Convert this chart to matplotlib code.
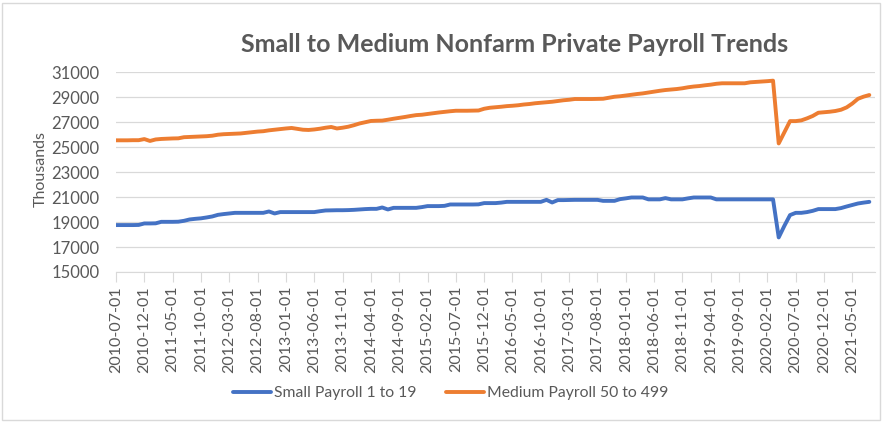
import matplotlib
matplotlib.use("Agg")
import matplotlib.pyplot as plt
import numpy as np
import pandas as pd

# monthly values, thousands of employees, 2010-07 .. 2021-08
small_payroll = [
    18760, 18760, 18760, 18760, 18770, 18890,
    18890, 18900, 19020, 19020, 19020, 19030, 19100, 19210, 19260, 19300, 19370, 19450,
    19580, 19640, 19690, 19740, 19740, 19740, 19740, 19740, 19740, 19850, 19690, 19800,
    19800, 19800, 19800, 19800, 19800, 19800, 19870, 19930, 19940, 19950, 19950, 19960,
    19980, 20010, 20040, 20060, 20060, 20170, 20010, 20140, 20140, 20140, 20140, 20140,
    20200, 20280, 20280, 20280, 20300, 20410, 20410, 20410, 20410, 20410, 20420, 20520,
    20520, 20520, 20560, 20620, 20620, 20620, 20620, 20620, 20620, 20620, 20780, 20570,
    20760, 20760, 20770, 20780, 20780, 20780, 20780, 20780, 20700, 20700, 20700, 20840,
    20900, 20970, 20970, 20970, 20820, 20820, 20820, 20920, 20820, 20820, 20820, 20900,
    20970, 20970, 20970, 20970, 20820, 20820, 20820, 20820, 20820, 20820, 20820, 20820,
    20820, 20820, 20820, 17770, 18700, 19560, 19740, 19740, 19800, 19900, 20040, 20040,
    20040, 20040, 20120, 20250, 20370, 20490, 20560, 20620,
]
medium_payroll = [
    25550, 25550, 25550, 25560, 25560, 25650,
    25500, 25620, 25660, 25680, 25700, 25710, 25800, 25820, 25840, 25860, 25880, 25920,
    26000, 26040, 26060, 26080, 26100, 26150, 26200, 26250, 26280, 26350, 26400, 26450,
    26500, 26540, 26470, 26400, 26380, 26420, 26480, 26560, 26620, 26500, 26560, 26640,
    26760, 26900, 27000, 27100, 27120, 27130, 27200, 27280, 27350, 27420, 27500, 27570,
    27600, 27660, 27720, 27780, 27830, 27880, 27920, 27920, 27920, 27930, 27940, 28080,
    28160, 28200, 28240, 28290, 28320, 28360, 28420, 28460, 28520, 28560, 28600, 28640,
    28700, 28760, 28800, 28860, 28860, 28860, 28860, 28870, 28880, 28960, 29040, 29080,
    29140, 29200, 29260, 29310, 29380, 29450, 29520, 29580, 29620, 29660, 29720, 29800,
    29860, 29900, 29960, 30010, 30080, 30120, 30120, 30120, 30120, 30120, 30200, 30230,
    30260, 30290, 30330, 25300, 26200, 27090, 27090, 27150, 27310, 27500, 27760, 27800,
    27840, 27900, 28000, 28190, 28500, 28880, 29050, 29180,
]
months = pd.date_range("2010-07-01", periods=len(small_payroll), freq="MS")
month_labels = months.strftime("%Y-%m-%d").tolist()
y_ticks = list(range(15000, 31001, 2000))

TEXT = "#595959"
GRID = "#d9d9d9"
plt.rcParams["font.family"] = ["Lato", "DejaVu Sans"]

fig = plt.figure(figsize=(8.83, 4.22), dpi=100)
ax = fig.add_axes([116 / 883, 1 - 272 / 422, (875 - 116) / 883, (272 - 72.3) / 422])

x = np.arange(len(months))
ax.plot(x, small_payroll, color="#4472C4", lw=2.8, label="Small Payroll 1 to 19", solid_capstyle="round")
ax.plot(x, medium_payroll, color="#ED7D31", lw=2.8, label="Medium Payroll 50 to 499", solid_capstyle="round")

ax.set_xlim(0, len(months))
ax.set_ylim(15000, 31000)
ax.set_yticks(y_ticks)
ax.set_xticks(x[::5])
ax.set_xticklabels(month_labels[::5], rotation=90)
ax.grid(axis="y", color=GRID, lw=0.9)
ax.set_axisbelow(True)
for side in ("top", "right", "left"):
    ax.spines[side].set_visible(False)
ax.spines["bottom"].set_color(GRID)
ax.tick_params(axis="y", length=0, pad=12, labelsize=12, labelcolor=TEXT)
ax.tick_params(axis="x", length=7, color=GRID, pad=3, labelsize=11.5, labelcolor=TEXT)

fig.text(515 / 883, 1 - 44 / 422, "Small to Medium Nonfarm Private Payroll Trends",
         ha="center", va="center", fontsize=18, fontweight="bold", color=TEXT)
fig.text(41 / 883, 1 - 169 / 422, "Thousands", rotation=90, ha="center", va="center",
         fontsize=11.5, color=TEXT)

fig.legend(loc="center", bbox_to_anchor=(451 / 883, 1 - 393 / 422), ncol=2, frameon=False,
           fontsize=11.3, labelcolor=TEXT, handlelength=2.4, handletextpad=0.2, columnspacing=1.9)

fig.patches.append(plt.Rectangle((2 / 883, 2 / 422), 878 / 883, 417 / 422, transform=fig.transFigure,
                                 fill=False, edgecolor=GRID, lw=1))

fig.savefig("out.png", dpi=100)
